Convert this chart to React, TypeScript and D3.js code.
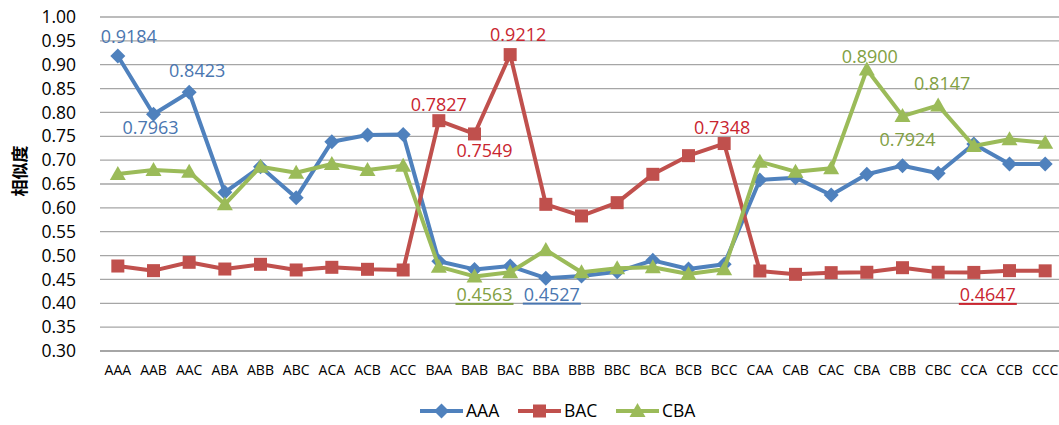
import React from "react";
import * as d3 from "d3";

const categories = [
  "AAA", "AAB", "AAC", "ABA", "ABB", "ABC", "ACA", "ACB", "ACC",
  "BAA", "BAB", "BAC", "BBA", "BBB", "BBC", "BCA", "BCB", "BCC",
  "CAA", "CAB", "CAC", "CBA", "CBB", "CBC", "CCA", "CCB", "CCC",
];

const seriesAAA = [
  0.9184, 0.7963, 0.8423, 0.6325, 0.6863, 0.6213, 0.7387, 0.7527, 0.7540,
  0.4880, 0.4710, 0.4780, 0.4527, 0.4570, 0.4660, 0.4900, 0.4720, 0.4817,
  0.6584, 0.6633, 0.6270, 0.6703, 0.6884, 0.6724, 0.7338, 0.6920, 0.6920,
];

const seriesBAC = [
  0.4781, 0.4684, 0.4859, 0.4718, 0.4817, 0.4698, 0.4754, 0.4712, 0.4698,
  0.7827, 0.7549, 0.9212, 0.6074, 0.5830, 0.6109, 0.6703, 0.7094, 0.7348,
  0.4677, 0.4607, 0.4642, 0.4650, 0.4746, 0.4650, 0.4647, 0.4684, 0.4680,
];

const seriesCBA = [
  0.6710, 0.6794, 0.6758, 0.6074, 0.6863, 0.6737, 0.6920, 0.6794, 0.6884,
  0.4767, 0.4563, 0.4650, 0.5117, 0.4650, 0.4733, 0.4754, 0.4614, 0.4712,
  0.6968, 0.6758, 0.6828, 0.8900, 0.7924, 0.8147, 0.7296, 0.7436, 0.7366,
];

const yTicks = [0.3, 0.35, 0.4, 0.45, 0.5, 0.55, 0.6, 0.65, 0.7, 0.75, 0.8, 0.85, 0.9, 0.95, 1.0];

const series = [
  { name: "AAA", values: seriesAAA, color: "#4F81BD", labelColor: "#4A76B0", marker: "diamond" },
  { name: "BAC", values: seriesBAC, color: "#C0504D", labelColor: "#C9252F", marker: "square" },
  { name: "CBA", values: seriesCBA, color: "#9BBB59", labelColor: "#82A043", marker: "triangle" },
];

// Value labels: which point, and where the text sits relative to it.
const valueLabels = [
  { s: 0, c: "AAA", dx: 11, dy: -13, underline: false },
  { s: 0, c: "AAB", dx: -3, dy: 20, underline: false },
  { s: 0, c: "AAC", dx: 8, dy: -15, underline: false },
  { s: 0, c: "BBA", dx: 6, dy: 23, underline: true },
  { s: 1, c: "BAA", dx: 0, dy: -10, underline: false },
  { s: 1, c: "BAB", dx: 10, dy: 23, underline: false },
  { s: 1, c: "BAC", dx: 8, dy: -14, underline: false },
  { s: 1, c: "BCC", dx: -2, dy: -10, underline: false },
  { s: 1, c: "CCA", dx: 14, dy: 29, underline: true },
  { s: 2, c: "BAB", dx: 10, dy: 25, underline: true },
  { s: 2, c: "CBA", dx: 3, dy: -6, underline: false },
  { s: 2, c: "CBB", dx: 5, dy: 30, underline: false },
  { s: 2, c: "CBC", dx: 4, dy: -15, underline: false },
];

const W = 1059;
const H = 425;
const plot = { left: 100, right: 1063, top: 17, bottom: 351 };
const FONT = "'Open Sans', 'Noto Sans', sans-serif";

function Marker({ type, x, y, color }: { type: string; x: number; y: number; color: string }) {
  if (type === "diamond") {
    const r = 7.5;
    return <path d={`M${x},${y - r}L${x + r},${y}L${x},${y + r}L${x - r},${y}Z`} fill={color} />;
  }
  if (type === "square") {
    const r = 6.5;
    return <rect x={x - r} y={y - r} width={2 * r} height={2 * r} fill={color} />;
  }
  const r = 8;
  return <path d={`M${x},${y - r}L${x + r},${y + r * 0.75}L${x - r},${y + r * 0.75}Z`} fill={color} />;
}

export default function App() {
  const x = d3.scaleBand<string>().domain(categories).range([plot.left, plot.right]);
  const cx = (c: string) => (x(c) as number) + x.bandwidth() / 2;
  const y = d3.scaleLinear().domain([0.3, 1.0]).range([plot.bottom, plot.top]);
  const line = d3
    .line<number>()
    .x((_, i) => cx(categories[i]))
    .y((v) => y(v));

  const legendItems = [
    { lineX: 420, textX: 466 },
    { lineX: 518, textX: 564 },
    { lineX: 616, textX: 662 },
  ];

  return (
    <div style={{ position: "absolute", left: 0, top: 0 }}>
      <svg width={W} height={H} style={{ display: "block", background: "#fff" }}>
        {/* grid */}
        {yTicks.map((t) => (
          <line
            key={t}
            x1={plot.left}
            x2={W}
            y1={y(t)}
            y2={y(t)}
            stroke={t === 0.3 ? "#888" : "#A6A6A6"}
            strokeWidth={t === 0.3 ? 1.6 : 1.3}
          />
        ))}
        {/* y tick labels */}
        {yTicks.map((t) => (
          <text
            key={"l" + t}
            x={76}
            y={y(t)}
            dy="0.35em"
            textAnchor="end"
            fontFamily={FONT}
            fontSize={17.5}
            fill="#000"
          >
            {d3.format(".2f")(t)}
          </text>
        ))}
        {/* y axis title */}
        <text
          transform={`translate(26,171) rotate(-90)`}
          textAnchor="middle"
          fontFamily="'Noto Sans CJK SC', sans-serif"
          fontWeight="bold"
          fontSize={17}
          fill="#000"
        >
          相似度
        </text>
        {/* x labels */}
        {categories.map((c) => (
          <text
            key={c}
            x={cx(c)}
            y={375}
            textAnchor="middle"
            fontFamily={FONT}
            fontSize={14}
            fill="#000"
          >
            {c}
          </text>
        ))}
        {/* series */}
        {series.map((s) => (
          <g key={s.name}>
            <path d={line(s.values) || ""} fill="none" stroke={s.color} strokeWidth={4} strokeLinejoin="round" />
            {s.values.map((v, i) => (
              <Marker key={i} type={s.marker} x={cx(categories[i])} y={y(v)} color={s.color} />
            ))}
          </g>
        ))}
        {/* value labels */}
        {valueLabels.map((l, i) => {
          const s = series[l.s];
          const v = s.values[categories.indexOf(l.c)];
          const px = cx(l.c) + l.dx;
          const py = y(v) + l.dy;
          return (
            <g key={i}>
              <text
                x={px}
                y={py}
                textAnchor="middle"
                fontFamily={FONT}
                fontSize={18}
                fill={s.labelColor}
              >
                {d3.format(".4f")(v)}
              </text>
              {l.underline && (
                <rect x={px - 29} y={py + 1.5} width={58} height={2} fill={s.labelColor} />
              )}
            </g>
          );
        })}
        {/* legend */}
        {series.map((s, i) => (
          <g key={"lg" + s.name}>
            <line
              x1={legendItems[i].lineX}
              x2={legendItems[i].lineX + 43}
              y1={411}
              y2={411}
              stroke={s.color}
              strokeWidth={4}
            />
            <Marker type={s.marker} x={legendItems[i].lineX + 21.5} y={411} color={s.color} />
            <text
              x={legendItems[i].textX}
              y={411}
              dy="0.35em"
              fontFamily={FONT}
              fontSize={17.5}
              fill="#000"
            >
              {s.name}
            </text>
          </g>
        ))}
      </svg>
    </div>
  );
}
